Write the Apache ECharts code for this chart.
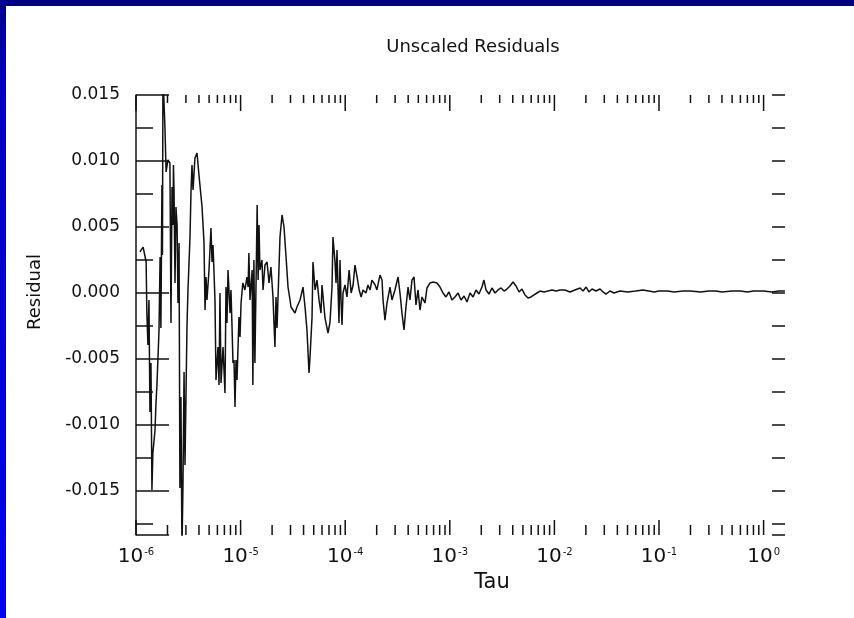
<!DOCTYPE html>
<html>
<head>
<meta charset="utf-8">
<script src="https://cdn.jsdelivr.net/npm/echarts@6/dist/echarts.min.js"></script>
<style>
html,body{margin:0;padding:0;background:#ffffff;}
#chart{width:854px;height:618px;}
</style>
</head>
<body>
<div id="chart"></div>
<script>
// ---- data ----
const tau = [
  1.09e-6,1.17e-6,1.25e-6,1.27e-6,1.30e-6,1.33e-6,1.36e-6,1.39e-6,1.42e-6,1.45e-6,
  1.52e-6,1.55e-6,1.59e-6,1.66e-6,1.70e-6,1.73e-6,1.77e-6,1.79e-6,1.81e-6,1.89e-6,
  1.94e-6,2.02e-6,2.11e-6,2.16e-6,2.21e-6,2.26e-6,2.28e-6,2.31e-6,2.36e-6,2.41e-6,
  2.47e-6,2.52e-6,2.58e-6,2.63e-6,2.69e-6,2.75e-6,2.81e-6,2.88e-6,2.94e-6,3.07e-6,
  3.14e-6,3.28e-6,3.36e-6,3.43e-6,3.51e-6,3.66e-6,3.83e-6,4.00e-6,4.09e-6,4.28e-6,
  4.47e-6,4.57e-6,4.67e-6,4.77e-6,4.99e-6,5.21e-6,5.33e-6,5.45e-6,5.69e-6,5.82e-6,
  6.08e-6,6.22e-6,6.35e-6,6.50e-6,6.64e-6,6.79e-6,7.09e-6,7.25e-6,7.41e-6,7.58e-6,
  7.92e-6,8.09e-6,8.28e-6,8.46e-6,8.65e-6,8.84e-6,9.04e-6,9.24e-6,9.65e-6,9.87e-6,
  1.01e-5,1.05e-5,1.10e-5,1.15e-5,1.18e-5,1.20e-5,1.23e-5,1.29e-5,1.31e-5,1.34e-5,
  1.37e-5,1.44e-5,1.47e-5,1.50e-5,1.53e-5,1.60e-5,1.64e-5,1.71e-5,1.79e-5,1.87e-5,
  1.95e-5,2.04e-5,2.13e-5,2.18e-5,2.23e-5,2.33e-5,2.38e-5,2.43e-5,2.49e-5,2.60e-5,
  2.72e-5,2.84e-5,2.97e-5,3.03e-5,3.17e-5,3.31e-5,3.46e-5,3.70e-5,3.95e-5,4.13e-5,
  4.31e-5,4.51e-5,4.61e-5,4.82e-5,4.92e-5,5.15e-5,5.38e-5,5.62e-5,5.87e-5,6.00e-5,
  6.41e-5,6.85e-5,7.16e-5,7.48e-5,7.64e-5,7.99e-5,8.17e-5,8.35e-5,8.72e-5,8.92e-5,
  9.12e-5,9.32e-5,9.53e-5,9.96e-5,1.04e-4,1.09e-4,1.14e-4,1.19e-4,1.24e-4,1.30e-4,
  1.36e-4,1.42e-4,1.48e-4,1.58e-4,1.65e-4,1.73e-4,1.80e-4,1.93e-4,2.01e-4,2.15e-4,
  2.25e-4,2.30e-4,2.40e-4,2.51e-4,2.68e-4,2.80e-4,2.99e-4,3.20e-4,3.34e-4,3.49e-4,
  3.65e-4,3.81e-4,3.99e-4,4.16e-4,4.35e-4,4.55e-4,4.75e-4,4.97e-4,5.19e-4,5.42e-4,
  5.79e-4,6.05e-4,6.47e-4,6.91e-4,7.54e-4,8.06e-4,8.61e-4,9.20e-4,9.82e-4,1.05e-3,
  1.12e-3,1.20e-3,1.28e-3,1.37e-3,1.46e-3,1.56e-3,1.67e-3,1.78e-3,1.90e-3,2.03e-3,
  2.12e-3,2.22e-3,2.37e-3,2.53e-3,2.71e-3,2.89e-3,3.09e-3,3.30e-3,3.52e-3,3.76e-3,
  4.02e-3,4.30e-3,4.59e-3,4.90e-3,5.24e-3,5.59e-3,5.98e-3,6.38e-3,6.82e-3,7.29e-3,
  7.96e-3,8.69e-3,9.49e-3,1.04e-2,1.13e-2,1.26e-2,1.41e-2,1.57e-2,1.76e-2,1.88e-2,
  2.01e-2,2.14e-2,2.29e-2,2.50e-2,2.73e-2,2.92e-2,3.11e-2,3.40e-2,3.71e-2,4.24e-2,
  0.05,0.06,0.07,0.08,0.09,0.10,0.12,0.14,0.17,0.20,
  0.25,0.30,0.35,0.40,0.50,0.60,0.70,0.80,1.00,1.20,
  1.40,1.60
];
const residual = [
  0.00311,0.00348,0.00235,-0.00152,-0.00394,-0.00053,-0.00902,-0.00530,-0.01492,-0.01212,
  -0.01038,-0.00848,-0.00674,-0.00280,0.00273,-0.00265,0.00818,0.00288,0.0165,0.01258,
  0.00917,0.01008,0.00985,-0.00227,0.00803,0.00515,0.00970,0.00780,0.00076,0.00652,
  0.00515,-0.00076,0.00379,-0.01477,-0.00788,-0.0195,-0.01477,-0.00598,-0.01303,-0.00265,
  0.00023,0.00417,0.00780,0.00970,0.00780,0.01023,0.01061,0.00894,0.00909,0.00652,
  0.00379,-0.00129,0.00121,-0.00053,0.00174,0.00492,0.00235,0.00364,-0.00053,-0.00659,
  -0.00409,-0.00697,0,-0.00682,-0.00545,-0.00409,-0.00758,0.00045,-0.00227,0.00174,
  -0.00152,0.00023,-0.00258,-0.00530,-0.00508,-0.00864,-0.00508,-0.00659,-0.00182,-0.00333,
  -0.00076,0.00076,0.00023,0.00121,0.00045,0.00303,-0.00053,0.00174,-0.00697,0.00250,
  -0.00530,0.00667,0.00098,0.00515,0.00174,0.00250,0.00023,0.00212,0.00235,0.00076,
  0.00197,-0.00030,-0.00409,-0.00030,-0.00265,0.00197,0.00424,0.00500,0.00591,0.00500,
  0.00273,0.00045,-0.00053,-0.00106,-0.00129,-0.00152,-0.00106,-0.00053,0.00045,-0.00106,
  -0.00280,-0.00606,-0.00485,-0.00182,0.00235,0.00023,0.00098,-0.00053,-0.00152,0.00061,
  -0.00189,-0.00303,-0.00220,0.00045,0.00424,0.00235,0.00076,0.00326,-0.00227,0.00250,
  -0.00053,-0.00242,0,0.00061,-0.00030,0.00174,0,0.00061,0.00212,0.00121,
  0.00023,-0.00030,0.00023,0,0.00061,0.00023,0.00098,0.00061,0.00023,0.00136,
  0.00098,-0.00053,-0.00205,-0.00076,0.00045,-0.00053,0.00023,0.00121,0,-0.00152,
  -0.00280,-0.00106,0.00045,-0.00053,0.00098,0.00121,-0.00091,0.00023,-0.00129,-0.00030,
  -0.00076,0.00038,0.00076,0.00083,0.00076,0.00045,0,-0.00030,0.00008,-0.00053,
  -0.00030,0,-0.00053,-0.00023,-0.00068,0,-0.00030,0.00023,-0.00008,0.00045,
  0.00098,0.00023,-0.00008,0.00038,0,0.00023,0.00038,0.00015,0.00030,0.00053,
  0.00083,0.00053,0.00008,0.00030,-0.00015,-0.00038,-0.00030,-0.00015,0,0.00015,
  0.00008,0.00015,0.00023,0.00015,0.00023,0.00023,0.00008,0.00023,0.00038,0.00015,
  0.00045,0.00008,0.00030,0.00015,0.00030,0.00008,-0.00008,0.00015,0,0.00015,
  0.00008,0.00015,0.00023,0.00015,0.00008,0.00015,0.00015,0.00008,0.00015,0.00015,
  0.00008,0.00015,0.00015,0.00008,0.00015,0.00015,0.00008,0.00015,0.00015,0.00008,
  0.00015,0.00015
];
const xTickExponents = [-6, -5, -4, -3, -2, -1, 0];
const xMinorMultipliers = [2, 3, 4, 5, 6, 7, 8, 9];
const titleText = 'Unscaled Residuals';
const xName = 'Tau';
const yName = 'Residual';

// ---- build ----
const lineData = tau.map((t, i) => [t, residual[i]]);
const xTicks = [];
xTickExponents.forEach(e => {
  const base = Math.pow(10, e);
  xTicks.push([base, 1]);
  xMinorMultipliers.forEach(m => xTicks.push([m * base, 0]));
});

const INK = '#111111';
const FONT = 'DejaVu Sans';

const chart = echarts.init(document.getElementById('chart'), null, {renderer: 'canvas'});
chart.setOption({
  animation: false,
  backgroundColor: '#ffffff',
  graphic: [
    {type: 'rect', left: 0, top: 0, shape: {width: 854, height: 6}, style: {fill: '#000080'}, z: 10},
    {type: 'rect', left: 0, top: 0, shape: {width: 6, height: 618},
      style: {fill: new echarts.graphic.LinearGradient(0, 0, 0, 1, [
        {offset: 0, color: '#00008a'}, {offset: 0.15, color: '#0000c0'}, {offset: 1, color: '#0000f0'}])}, z: 10},
    {type: 'text', x: 473, y: 47, z: 10,
      style: {text: titleText, font: 'normal 18px "DejaVu Sans"', fill: INK,
        align: 'center', verticalAlign: 'middle', textAlign: 'center', textVerticalAlign: 'middle'}}
  ],
  grid: {left: 136, right: 69, top: 95, bottom: 83, show: false},
  xAxis: [{
    type: 'log', logBase: 10, min: 1e-6, max: 1.602, position: 'bottom',
    axisLine: {show: false}, axisTick: {show: false}, splitLine: {show: false}, minorTick: {show: false},
    axisLabel: {
      margin: 12, showMaxLabel: false, showMinLabel: true,
      formatter: function (v) {
        const e = Math.log10(v); const r = Math.round(e);
        if (Math.abs(e - r) > 1e-6) return '';
        return '{b|10}{s|' + r + '}';
      },
      rich: {
        b: {fontFamily: FONT, fontSize: 20, color: INK},
        s: {fontFamily: FONT, fontSize: 10, color: INK, verticalAlign: 'top', padding: [0, 0, 0, 1]}
      }
    },
    name: xName, nameLocation: 'middle', nameGap: 34,
    nameTextStyle: {fontFamily: FONT, fontSize: 21, color: INK, padding: [0, 0, 0, 63]}
  }],
  yAxis: [{
    type: 'value', min: -0.018333, max: 0.015, minInterval: 0.005, maxInterval: 0.005, position: 'left',
    axisLine: {show: true, lineStyle: {color: INK, width: 1.5}},
    axisTick: {show: true, inside: true, length: 33, lineStyle: {color: INK, width: 1.5}},
    minorTick: {show: true, splitNumber: 2, length: 17, lineStyle: {color: INK, width: 1.5}},
    splitLine: {show: false},
    axisLabel: {margin: 16, showMinLabel: false, fontFamily: FONT, fontSize: 17, color: INK,
      formatter: v => v.toFixed(3)},
    name: yName, nameLocation: 'middle', nameGap: 92,
    nameTextStyle: {fontFamily: FONT, fontSize: 18, color: INK, padding: [0, 0, 0, 46]}
  }, {
    type: 'value', min: -0.018333, max: 0.015, minInterval: 0.005, maxInterval: 0.005, position: 'right',
    axisLine: {show: false},
    axisTick: {show: true, inside: true, length: 13, lineStyle: {color: INK, width: 1.5}},
    minorTick: {show: true, splitNumber: 2, length: 13, lineStyle: {color: INK, width: 1.5}},
    splitLine: {show: false}, axisLabel: {show: false}
  }],
  series: [{
    type: 'line', data: lineData, xAxisIndex: 0, yAxisIndex: 0,
    symbol: 'none', showSymbol: false, smooth: false, clip: true,
    lineStyle: {color: INK, width: 1.5}, z: 3
  }, {
    type: 'custom', data: xTicks, xAxisIndex: 0, yAxisIndex: 0, silent: true, clip: false, z: 4,
    renderItem: function (params, api) {
      const v = api.value(0); const major = api.value(1) === 1;
      const cs = params.coordSys;
      const x = api.coord([v, 0])[0];
      if (x < cs.x - 0.5 || x > cs.x + cs.width + 0.5) return null;
      const st = {stroke: INK, lineWidth: 1.5};
      const top = cs.y, bot = cs.y + cs.height;
      return {type: 'group', children: [
        {type: 'line', shape: {x1: x, y1: top, x2: x, y2: top + (major ? 16 : 8)}, style: st},
        {type: 'line', shape: {x1: x, y1: bot, x2: x, y2: bot - (major ? 15 : 10)}, style: st}
      ]};
    }
  }]
});
</script>
</body>
</html>
